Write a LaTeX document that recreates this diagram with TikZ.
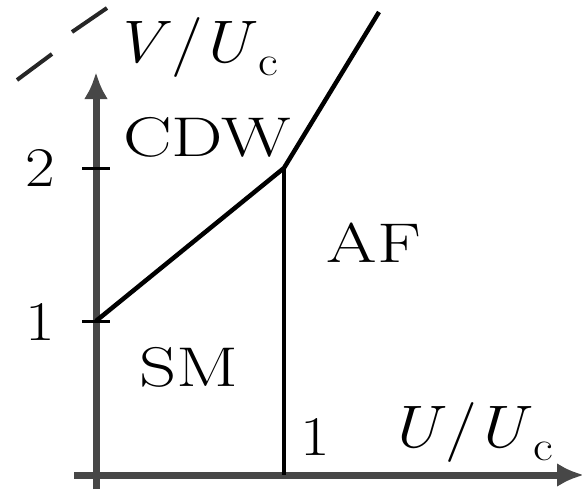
\documentclass[tikz,border=0pt]{standalone}
\usepackage{graphicx}
\usetikzlibrary{arrows.meta}
\newcommand{\ratio}[1]{\textit{#1}/\kern-0.04em\textit{U}\kern0.02em\raisebox{-0.22em}{\fontsize{42}{44}\selectfont c}}
\begin{document}
\begin{tikzpicture}[x=1pt,y=-1pt,
  axis/.style={line width=7pt,draw=black!72,-{Latex[length=27pt,width=24pt]}},
  phase/.style={line width=4.5pt,draw=black},
  tickmark/.style={line width=3pt,draw=black},
  lbl/.style={inner sep=0pt,font=\fontsize{56}{60}\selectfont},
  axlbl/.style={inner sep=0pt,font=\fontsize{60}{64}\selectfont}]
\useasboundingbox (0,0) rectangle (582,490);
% coordinates
\coordinate (O) at (96,475);
\coordinate (ybot) at (96,489);
\coordinate (ytop) at (96,72);
\coordinate (xleft) at (74,475);
\coordinate (xright) at (584,475);
\coordinate (v1) at (96,321);
\coordinate (v2) at (96,168);
\coordinate (k) at (284,168);
\coordinate (kb) at (284,475);
\coordinate (top) at (379,12);
\coordinate (t1l) at (82,321);
\coordinate (t1r) at (110,321);
\coordinate (t2l) at (82,168);
\coordinate (t2r) at (110,168);
\coordinate (d1a) at (17,80);
\coordinate (d1b) at (52,54);
\coordinate (d2a) at (72,32);
\coordinate (d2b) at (107,8);
% axes
\draw[axis] (ybot) -- (ytop);
\draw[axis] (xleft) -- (xright);
% ticks
\draw[tickmark] (t1l) -- (t1r);
\draw[tickmark] (t2l) -- (t2r);
% phase boundaries
\draw[phase,line join=round] (v1) -- (k) -- (top);
\draw[phase] (k) -- (kb);
% dashes
\draw[line width=4pt,draw=black!85] (d1a) -- (d1b);
\draw[line width=4pt,draw=black!85] (d2a) -- (d2b);
% labels
\node[axlbl,anchor=base west] (vlab) at (112,62) {\scalebox{1.15}[1]{\ratio{V}}};
\node[axlbl,anchor=base west] (ulab) at (388,447) {\scalebox{1.15}[1]{\ratio{U}}};
\node[lbl] (cdw) at (207,137) {\scalebox{1.3}[1]{CDW}};
\node[lbl] (af) at (374,243) {\scalebox{1.3}[1]{AF}};
\node[lbl] (sm) at (189,367) {\scalebox{1.3}[1]{SM}};
\node[lbl] (n2) at (40,168) {\scalebox{1.15}[1]{2}};
\node[lbl] (n1) at (40,322) {\scalebox{1.15}[1]{1}};
\node[lbl] (nx1) at (315,437) {\scalebox{1.15}[1]{1}};
\end{tikzpicture}
\end{document}
